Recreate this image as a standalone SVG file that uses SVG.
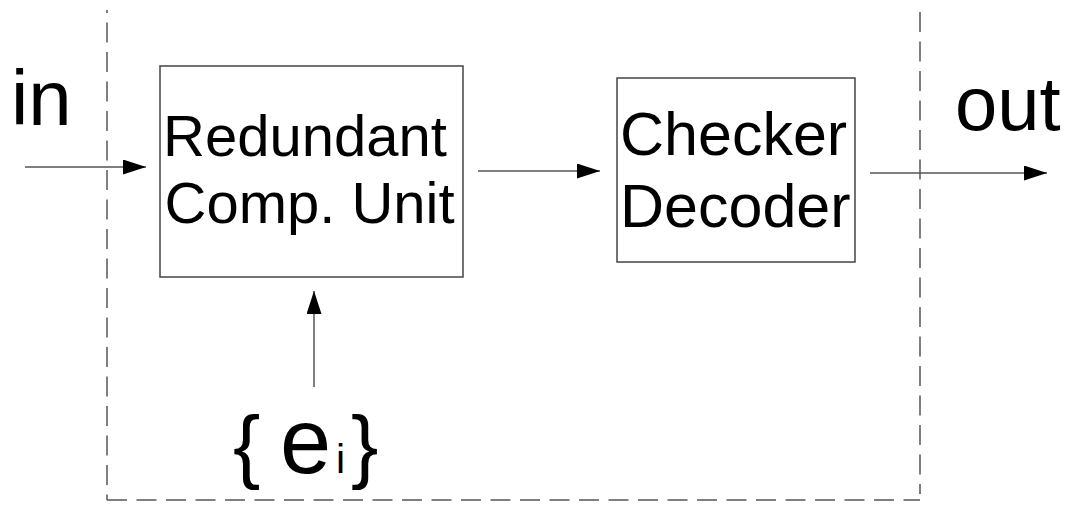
<svg xmlns="http://www.w3.org/2000/svg" width="1073" height="507" viewBox="0 0 1073 507">
  <defs>
    <style>
      .box { fill: #ffffff; stroke: #444444; stroke-width: 1.5; }
      .lbl { font-family: "Liberation Sans", Arial, sans-serif; fill: #000000; }
      .wire { fill: none; stroke: #555555; stroke-width: 1.5; }
      .frame { fill: none; stroke: #555555; stroke-width: 1.5; stroke-dasharray: 20 9.5; }
    </style>
    <marker id="arrow" markerUnits="userSpaceOnUse" markerWidth="24" markerHeight="16" refX="23" refY="7.5" orient="auto">
      <path d="M0,0 L23,7.5 L0,15 Z" fill="#000000"/>
    </marker>
  </defs>

  <rect width="1073" height="507" fill="#ffffff"/>

  <!-- dashed system boundary -->
  <g id="boundary">
    <line class="frame" x1="107" y1="10" x2="107" y2="500" stroke-dashoffset="17"/>
    <line class="frame" x1="920" y1="12" x2="920" y2="494"/>
    <line class="frame" x1="107" y1="500" x2="920" y2="500"/>
  </g>

  <!-- connectors -->
  <g id="connectors">
    <line class="wire" x1="25" y1="167" x2="146" y2="167" marker-end="url(#arrow)"/>
    <line class="wire" x1="478" y1="171" x2="600" y2="171" marker-end="url(#arrow)"/>
    <line class="wire" x1="870" y1="173" x2="1047" y2="173" marker-end="url(#arrow)"/>
    <line class="wire" x1="314" y1="387" x2="314" y2="291" marker-end="url(#arrow)"/>
  </g>

  <g id="label-in">
    <text class="lbl" x="11" y="125" font-size="78">in</text>
  </g>

  <g id="label-out">
    <text class="lbl" x="955" y="130" font-size="76">out</text>
  </g>

  <g id="redundant-unit">
    <rect class="box" x="160" y="66" width="303" height="211"/>
    <text class="lbl" x="163" y="156" font-size="58">Redundant</text>
    <text class="lbl" x="164.5" y="223" font-size="58">Comp. Unit</text>
  </g>

  <g id="checker-decoder">
    <rect class="box" x="617" y="78" width="238" height="184"/>
    <text class="lbl" x="620" y="155" font-size="61">Checker</text>
    <text class="lbl" x="620" y="227" font-size="61">Decoder</text>
  </g>

  <g id="label-errors">
    <text class="lbl" x="233" y="473" font-size="82">{</text>
    <text class="lbl" x="280" y="473" font-size="92">e</text>
    <text class="lbl" x="336" y="473" font-size="41">i</text>
    <text class="lbl" x="351" y="473" font-size="82">}</text>
  </g>
</svg>
